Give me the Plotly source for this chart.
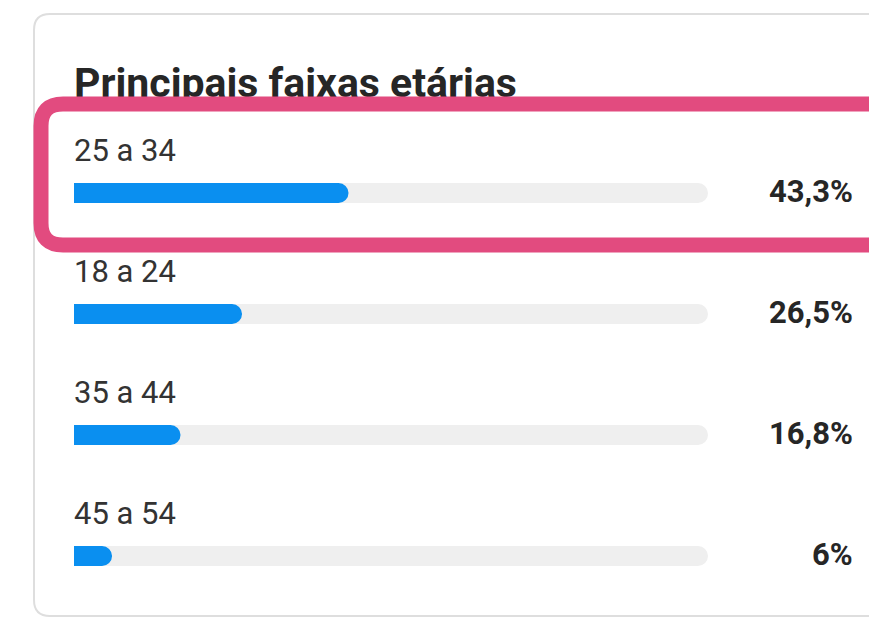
import plotly.graph_objects as go

title = "Principais faixas etárias"
categories = ["25 a 34", "18 a 24", "35 a 44", "45 a 54"]
values = [43.3, 26.5, 16.8, 6.0]
value_labels = ["43,3%", "26,5%", "16,8%", "6%"]

W, H = 869, 621

def px(x):
    return x / W

def py(y):
    return 1 - y / H

def rrect_path(x0, y0, x1, y1, r):
    pts = [
        f"M {px(x0 + r)},{py(y0)}",
        f"L {px(x1 - r)},{py(y0)}",
        f"Q {px(x1)},{py(y0)} {px(x1)},{py(y0 + r)}",
        f"L {px(x1)},{py(y1 - r)}",
        f"Q {px(x1)},{py(y1)} {px(x1 - r)},{py(y1)}",
        f"L {px(x0 + r)},{py(y1)}",
        f"Q {px(x0)},{py(y1)} {px(x0)},{py(y1 - r)}",
        f"L {px(x0)},{py(y0 + r)}",
        f"Q {px(x0)},{py(y0)} {px(x0 + r)},{py(y0)}",
        "Z",
    ]
    return " ".join(pts)

ypos = list(range(len(categories)))
bar_w = 20 / 121

fig = go.Figure()
# grey tracks (100%)
fig.add_trace(go.Bar(
    y=ypos, x=[100] * len(categories), orientation="h",
    marker=dict(color="#efefef", line=dict(width=0), cornerradius=10),
    width=bar_w, hoverinfo="skip", showlegend=False,
))
# blue values on an overlaid copy of the axes so each gets its own rounded end
fig.add_trace(go.Bar(
    y=ypos, x=values, orientation="h",
    marker=dict(color="#0a8ff0", line=dict(width=0), cornerradius=10),
    width=bar_w, hoverinfo="skip", showlegend=False,
    xaxis="x3", yaxis="y3",
))
# title as text on a full-page axis so the highlight frame can cover it
fig.add_trace(go.Scatter(
    x=[74], y=[87], mode="text", text=[title], textposition="middle right",
    textfont=dict(family="Roboto", size=41, color="#262626", weight="bold"),
    xaxis="x2", yaxis="y2", hoverinfo="skip", showlegend=False, cliponaxis=False,
))

annotations = []
for i, (c, v) in enumerate(zip(categories, value_labels)):
    annotations.append(dict(
        x=0, y=i, xref="x", yref="y", text=c, showarrow=False,
        xanchor="left", yanchor="middle", yshift=43, xshift=-2,
        font=dict(family="Roboto", size=31, color="#333333"),
    ))
    annotations.append(dict(
        x=px(852), y=i, xref="paper", yref="y", text=f"<b>{v}</b>", showarrow=False,
        xanchor="right", yanchor="middle", yshift=2, xshift=3,
        font=dict(family="Roboto", size=31, color="#262626"),
    ))

shapes = [
    dict(type="path", xref="paper", yref="paper", layer="below",
         path=rrect_path(34, 14, 900, 616, 16),
         line=dict(color="#dedede", width=2), fillcolor="rgba(0,0,0,0)"),
    dict(type="path", xref="paper", yref="paper", layer="above",
         path=rrect_path(41, 104, 900, 245, 22),
         line=dict(color="#e24b7f", width=15), fillcolor="rgba(0,0,0,0)"),
]

xdom = [px(74), px(708)]
ydom = [py(616.5), py(132.5)]
fig.update_layout(
    width=W, height=H,
    margin=dict(l=0, r=0, t=0, b=0),
    paper_bgcolor="white", plot_bgcolor="rgba(0,0,0,0)",
    barmode="overlay",
    xaxis=dict(domain=xdom, range=[0, 100], visible=False, fixedrange=True),
    yaxis=dict(domain=ydom, range=[3.5, -0.5], visible=False, fixedrange=True),
    xaxis3=dict(domain=xdom, range=[0, 100], visible=False, fixedrange=True,
                overlaying="x", anchor="y3"),
    yaxis3=dict(domain=ydom, range=[3.5, -0.5], visible=False, fixedrange=True,
                overlaying="y", anchor="x3"),
    xaxis2=dict(domain=[0, 1], range=[0, W], visible=False, anchor="y2", fixedrange=True),
    yaxis2=dict(domain=[0, 1], range=[H, 0], visible=False, anchor="x2", fixedrange=True),
    annotations=annotations, shapes=shapes,
)

fig.write_html(
    "out.html",
    config={"displayModeBar": False},
    post_script="document.body.style.margin='0';document.body.style.overflow='hidden';",
)
